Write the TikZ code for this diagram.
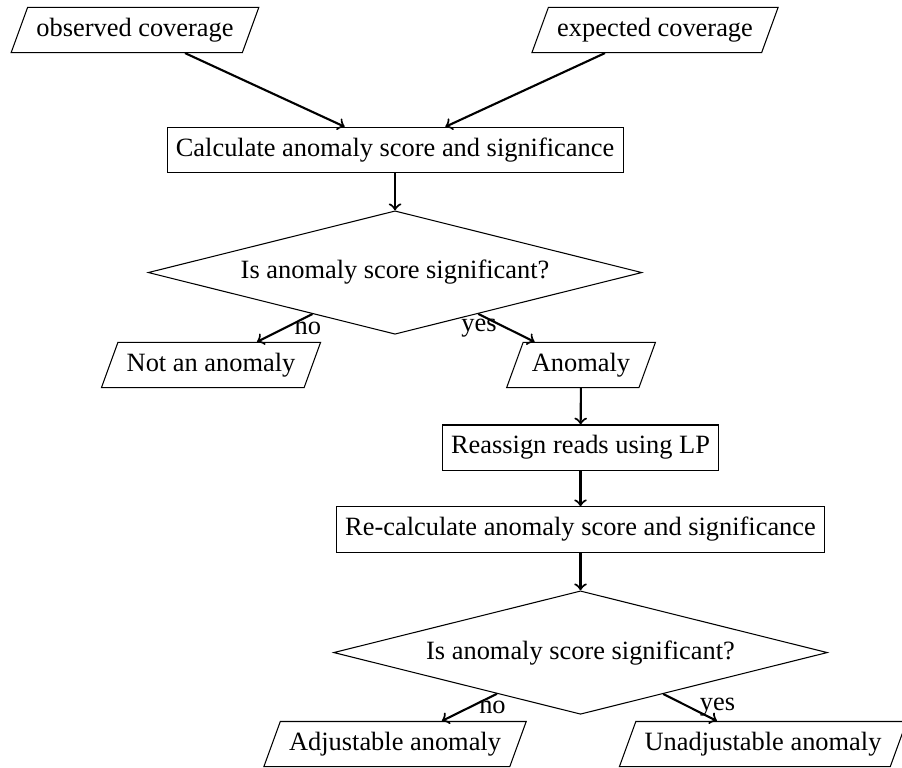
\documentclass[tikz,border=0pt]{standalone}
\usepackage{fontspec}
\setmainfont{Liberation Serif}
\usetikzlibrary{shapes.geometric}

\begin{document}
\begin{tikzpicture}[
    io/.style={draw, trapezium, trapezium left angle=70, trapezium right angle=110, inner ysep=4pt},
    process/.style={draw, rectangle, inner ysep=4pt},
    decision/.style={draw, diamond, aspect=4},
    flow/.style={->, thick}
]
    % Frame
    \useasboundingbox (0,0) rectangle (12.008,-10.211);

    % Inputs
    \node[io] (observed) at (1.797,-0.399) {observed coverage};
    \node[io] (expected) at (8.720,-0.399) {expected coverage};

    % First test
    \node[process] (calc) at (5.259,-1.997) {Calculate anomaly score and significance};
    \node[decision] (test1) at (5.259,-3.628) {Is anomaly score significant?};
    \node[io] (notanomaly) at (2.809,-4.859) {Not an anomaly};
    \node[io] (anomaly) at (7.735,-4.859) {Anomaly};

    % Reassignment
    \node[process] (reassign) at (7.728,-5.958) {Reassign reads using LP};
    \node[process] (recalc) at (7.728,-7.049) {Re-calculate anomaly score and significance};

    % Second test
    \node[decision] (test2) at (7.728,-8.687) {Is anomaly score significant?};
    \node[io] (adjustable) at (5.259,-9.905) {Adjustable anomaly};
    \node[io] (unadjustable) at (10.158,-9.905) {Unadjustable anomaly};

    % Flow
    \draw[flow] (observed) -- (calc);
    \draw[flow] (expected) -- (calc);
    \draw[flow] (calc) -- (test1);
    \draw[flow] (test1) -- node[right] (no1) {no} (notanomaly);
    \draw[flow] (test1) -- node[left] (yes1) {yes} (anomaly);
    \draw[flow] (anomaly) -- (reassign);
    \draw[flow] (reassign) -- (recalc);
    \draw[flow] (recalc) -- (test2);
    \draw[flow] (test2) -- node[right] (no2) {no} (adjustable);
    \draw[flow] (test2) -- node[right] (yes2) {yes} (unadjustable);
\end{tikzpicture}
\end{document}
